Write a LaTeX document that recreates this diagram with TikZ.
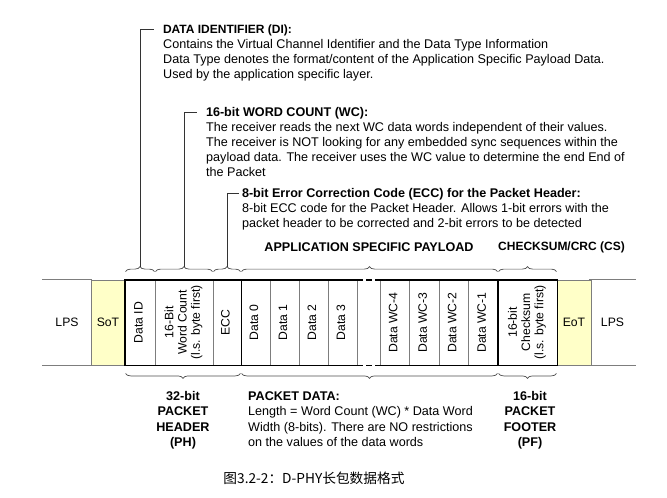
\documentclass[tikz,border=0pt]{standalone}
\usepackage{fontspec}
\usepackage{graphicx}
\setmainfont{Liberation Sans}
\newfontfamily\cjkfont{Noto Sans CJK SC}
\usetikzlibrary{decorations.pathreplacing}
\definecolor{sotyellow}{RGB}{255,255,200}
\definecolor{rule}{RGB}{125,125,125}
\newcommand\pkfont{\fontsize{12.6}{15}\selectfont}
\newcommand\cellfont{\fontsize{12.2}{13.3}\selectfont}
\newcommand\vlines[1]{\rotatebox{90}{\cellfont
  \begin{tabular}{@{}c@{}}#1\end{tabular}}}
\tikzset{
  field/.style={draw=rule,line width=0.8pt,minimum height=85pt,inner sep=0pt,font=\cellfont},
  frame/.style={line width=1.8pt,line cap=rect},
  brace/.style={decorate,decoration={brace,amplitude=5pt},draw=black!70,line width=0.7pt},
  lead/.style={draw=black!80,line width=0.8pt},
  head/.style={font=\pkfont\bfseries,inner sep=0pt,outer xsep=9pt,anchor=base west},
  body/.style={font=\pkfont,inner sep=0pt,align=left,anchor=north west}
}

\begin{document}
\begin{tikzpicture}[x=1pt,y=-1pt]
  \useasboundingbox (0,0) rectangle (667,498);

  % packet row
  \node[minimum width=49pt,minimum height=85pt,inner sep=0pt,font=\cellfont] (lpsl) at (67,322.5) {LPS};
  \node[field,fill=sotyellow,minimum width=34pt] (sot) at (108,322.5) {SoT};
  \node[field,minimum width=30pt] (di) at (140,322.5) {\vlines{Data ID}};
  \node[field,minimum width=58pt] (wc) at (184,322.5) {\vlines{16-Bit\\Word Count\\(l.s. byte first)}};
  \node[field,minimum width=28pt] (ecc) at (227,322.5) {\vlines{ECC}};
  \foreach \n/\cx in {0/255.5,1/284.5,2/313.5,3/342.5}
    \node[field,minimum width=29pt] (d\n) at (\cx,322.5) {\vlines{Data \n}};
  \foreach \n/\cx in {4/394.75,3/424.25,2/453.75,1/483.25}
    \node[field,minimum width=29.5pt] (w\n) at (\cx,322.5) {\vlines{Data WC-\n}};
  \node[field,minimum width=59pt] (cs) at (527.5,322.5) {\vlines{16-bit\\Checksum\\(l.s. byte first)}};
  \node[field,fill=sotyellow,minimum width=34pt] (eot) at (574,322.5) {EoT};
  \node[minimum width=47pt,minimum height=85pt,inner sep=0pt,font=\cellfont] (lpsr) at (612.5,322.5) {LPS};
  \draw[draw=rule,line width=0.8pt] (lpsl.north west) -- (lpsl.north east) (lpsl.south west) -- (lpsl.south east)
    (lpsr.north west) -- (lpsr.north east) (lpsr.south west) -- (lpsr.south east);

  % thick outline
  \draw[frame] (di.north west) rectangle (ecc.south east);
  \draw[frame] (cs.north west) rectangle (cs.south east);
  \draw[frame] (ecc.north east) -- (d3.north east) (ecc.south east) -- (d3.south east);
  \draw[frame] (w4.north west) -- (cs.north west) (w4.south west) -- (cs.south west);
  \draw[frame,line cap=butt,dash pattern=on 6pt off 3pt] (d3.north east) -- (w4.north west)
    (d3.south east) -- (w4.south west);

  % braces above
  \foreach \f in {di,wc,ecc,cs}
    \draw[brace] ([shift={(1pt,8pt)}]\f.north west) -- ([shift={(-1pt,8pt)}]\f.north east);
  \draw[brace] ([shift={(1pt,8pt)}]d0.north west) -- ([shift={(-1pt,8pt)}]w1.north east);
  % braces below
  \draw[brace] ([shift={(-1pt,-8pt)}]ecc.south east) -- ([shift={(1pt,-8pt)}]di.south west);
  \draw[brace] ([shift={(-1pt,-8pt)}]w1.south east) -- ([shift={(1pt,-8pt)}]d0.south west);
  \draw[brace] ([shift={(-1pt,-8pt)}]cs.south east) -- ([shift={(1pt,-8pt)}]cs.south west);

  % field descriptions
  \node[head,font=\fontsize{12}{15}\selectfont\bfseries] (dih) at (154,33) {DATA IDENTIFIER (DI):};
  \node[body] (dib) at (163,37.5) {\strut Contains the Virtual Channel Identifier and the Data Type Information\\
    Data Type denotes the format/content of the Application Specific Payload Data.\\
    Used by the application specific layer.};
  \node[head] (wch) at (197,116) {16-bit WORD COUNT (WC):};
  \node[body] (wcb) at (206,120.5) {\strut The receiver reads the next WC data words independent of their values.\\
    The receiver is NOT looking for any embedded sync sequences within the\\
    payload data. The receiver uses the WC value to determine the end End of\\
    the Packet};
  \node[head,outer xsep=3pt] (ecch) at (239,197) {8-bit Error Correction Code (ECC) for the Packet Header:};
  \node[body] (eccb) at (242,201.5) {\strut 8-bit ECC code for the Packet Header. Allows 1-bit errors with the\\
    packet header to be corrected and 2-bit errors to be detected};
  \node[font=\pkfont\bfseries,inner sep=0pt] (payl) at (369,247) {APPLICATION SPECIFIC PAYLOAD};
  \node[font=\fontsize{12}{15}\selectfont\bfseries,inner sep=0pt] (csl) at (561.5,247) {CHECKSUM/CRC (CS)};

  % leaders from the braces
  \coordinate (dit) at ([yshift=13pt]di.north);
  \coordinate (wct) at ([yshift=13pt]wc.north);
  \coordinate (ecct) at ([yshift=13pt]ecc.north);
  \draw[lead] (dit) |- (dih.west);
  \draw[lead] (wct) |- (wch.west);
  \draw[lead] (ecct) |- (ecch.west);

  % below the packet
  \node[font=\fontsize{12.6}{15.5}\selectfont\bfseries,inner sep=0pt,align=center,anchor=north] (phl) at (183,389)
    {\strut 32-bit\\PACKET\\HEADER\\(PH)};
  \node[font=\fontsize{12.6}{15.5}\selectfont,inner sep=0pt,align=left,anchor=north west] (pdl) at (248,389)
    {\strut\textbf{PACKET DATA:}\\Length = Word Count (WC) * Data Word\\
    Width (8-bits). There are NO restrictions\\on the values of the data words};
  \node[font=\fontsize{12.6}{15.5}\selectfont\bfseries,inner sep=0pt,align=center,anchor=north] (pfl) at (530,389)
    {\strut 16-bit\\PACKET\\FOOTER\\(PF)};

  \node[font=\cjkfont\fontsize{13.7}{15}\selectfont,inner sep=0pt] (cap) at (314,478) {图3.2-2：D-PHY长包数据格式};
\end{tikzpicture}
\end{document}
